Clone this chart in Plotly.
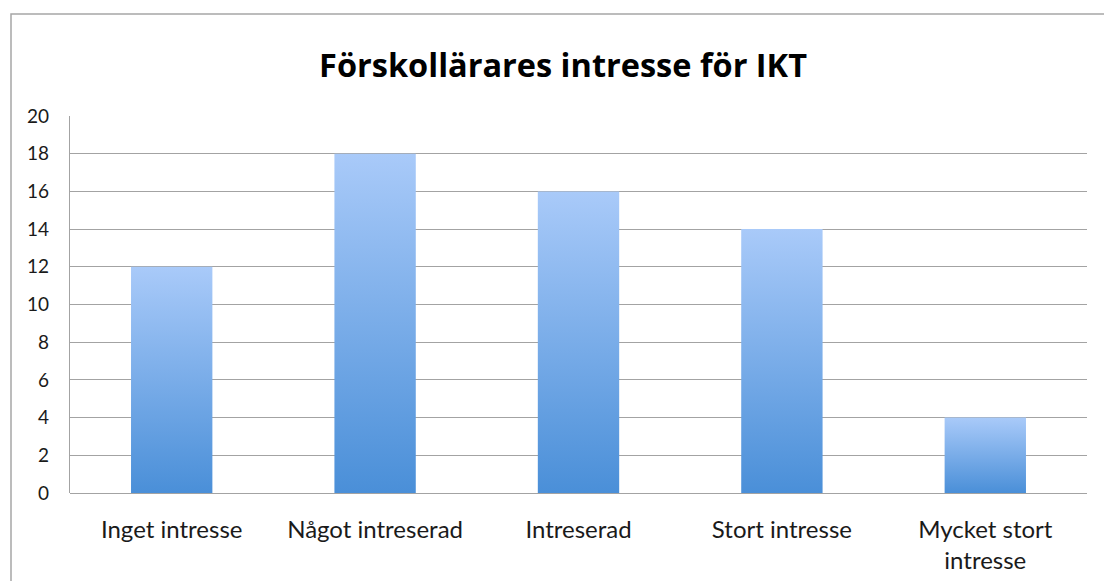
import plotly.graph_objects as go

categories = ["Inget intresse", "Något intreserad", "Intreserad", "Stort intresse", "Mycket stort<br>intresse"]
values = [12, 18, 16, 14, 4]
y_ticks = [0, 2, 4, 6, 8, 10, 12, 14, 16, 18, 20]
title_text = "Förskollärares intresse för IKT"

BAR_HALF = 0.2
DARK = "#4a8fd8"
LIGHT = "#a9caf9"
GRID = "#a3a3a3"
FONT = "Lato"

fig = go.Figure()
for i, v in enumerate(values):
    fig.add_trace(go.Scatter(
        x=[i - BAR_HALF, i + BAR_HALF, i + BAR_HALF, i - BAR_HALF, i - BAR_HALF],
        y=[0, 0, v, v, 0],
        mode="lines",
        line=dict(width=0),
        fill="toself",
        fillgradient=dict(type="vertical", colorscale=[[0, DARK], [1, LIGHT]]),
        showlegend=False,
        hoverinfo="skip",
    ))

fig.update_layout(
    width=1104, height=581,
    margin=dict(l=70, r=17, t=116, b=88),
    paper_bgcolor="white", plot_bgcolor="white",
    font=dict(family=FONT, color="#1a1a1a"),
    title=dict(text="<b>" + title_text + "</b>", x=0.4848, xref="paper", xanchor="center",
               y=1 - 66 / 581, yref="container", yanchor="middle",
               font=dict(size=32.5, family="Open Sans", color="#000000")),
    showlegend=False,
)
fig.update_xaxes(
    range=[-0.5, len(categories) - 0.5],
    tickmode="array", tickvals=list(range(len(categories))), ticktext=categories,
    showgrid=False, zeroline=False, showline=False, ticks="",
    ticklabelstandoff=20, automargin=False,
    tickfont=dict(size=24, family=FONT, color="#1a1a1a"),
    fixedrange=True,
)
fig.update_yaxes(
    range=[0, 20], tickmode="array", tickvals=y_ticks,
    showgrid=True, gridcolor=GRID, gridwidth=1.3,
    zeroline=True, zerolinecolor=GRID, zerolinewidth=1.3,
    showline=True, linecolor=GRID, linewidth=1.3,
    ticks="", ticklabelstandoff=16, automargin=False,
    tickfont=dict(size=19, family=FONT, color="#1a1a1a"),
    fixedrange=True,
)
# outer chart frame
fig.add_shape(type="rect", xref="paper", yref="paper",
              x0=(11 - 70) / 1017, x1=1.1, y0=-0.3, y1=(493 - 14) / 377,
              line=dict(color="#a6a6a6", width=1.5), fillcolor="rgba(0,0,0,0)", layer="below")

fig.write_html("out.html", config={"displayModeBar": False},
               post_script="document.body.style.margin='0';")
